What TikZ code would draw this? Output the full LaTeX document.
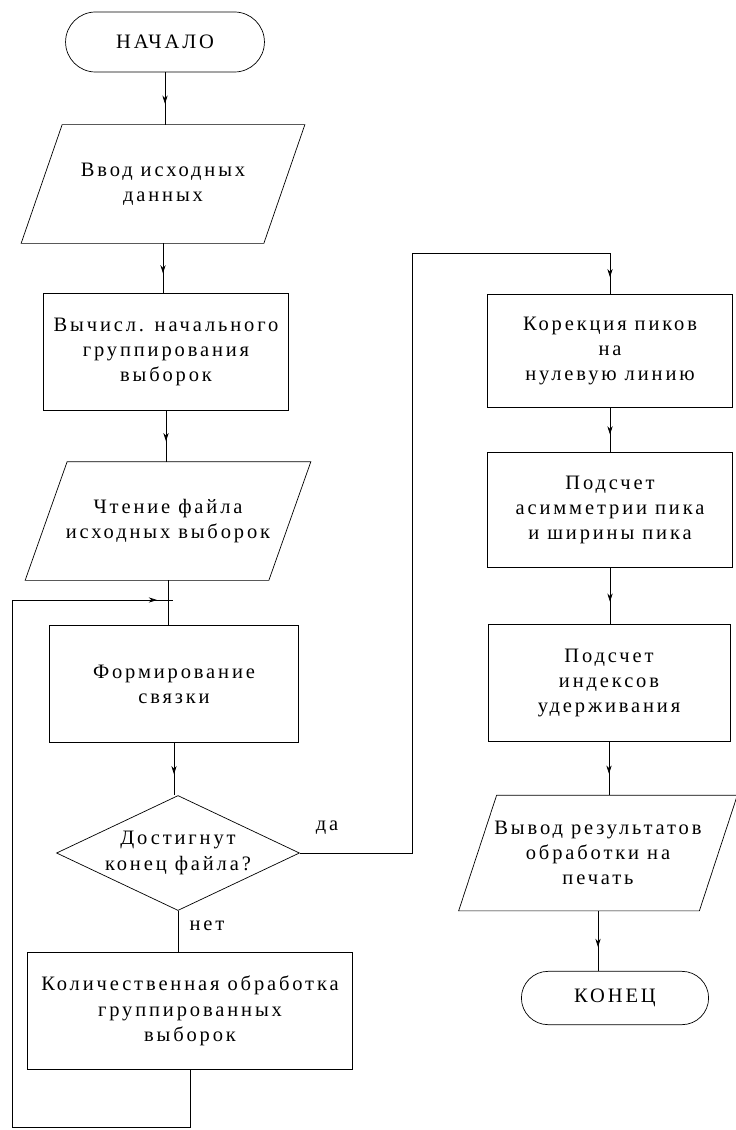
\documentclass[tikz,border=0pt]{standalone}
\usepackage{fontspec}
\setmainfont{Liberation Serif}[LetterSpace=14]
\usepackage{tikz}
\usetikzlibrary{shapes.geometric,shapes.misc,arrows.meta}
\usetikzlibrary{decorations.markings,positioning}
\begin{document}
\begin{tikzpicture}[x=0.03cm,y=-0.03cm,
    font=\fontsize{17.5}{21.5}\selectfont, line width=0.6pt,
    term/.style={rounded rectangle, draw, minimum height=#1},
    box/.style={rectangle, draw, align=center, minimum width=7.35cm, minimum height=3.5cm},
    io/.style={rectangle, align=center, minimum width=7.26cm, minimum height=3.54cm},
    cond/.style={diamond, draw, align=center, aspect=2.1, inner sep=0pt, minimum width=7.29cm, minimum height=3.45cm},
    midarr/.style={decoration={markings, mark=at position #1 with {\arrow{Stealth[length=7pt,width=4.5pt]}}}, postaction={decorate}},
    midarr/.default=0.6]

            \useasboundingbox (0,0) rectangle (736,1130);

            \node[term=1.8cm, minimum width=6.2cm] (start) at (165,42) {НАЧАЛО};
            \node[io] (in) at (163,184) {Ввод исходных\\ данных};
            \node[box] (calc) at (166,352) {Вычисл. начального\\ группирования\\ выборок};
            \node[io, minimum width=7.29cm] (read) at (168,521) {Чтение файла\\ исходных выборок};
            \node[box, minimum width=7.47cm] (form) at (174,684) {Формирование\\ связки};
            \node[cond] (test) at (178,853) {Достигнут\\ конец файла?};
            \node[box, minimum width=9.75cm] (quant) at (190,1011) {Количественная обработка\\ группированных\\ выборок};

            \node[box, minimum height=3.4cm] (corr) at (610,351) {Корекция пиков\\ на\\ нулевую линию};
            \node[box, minimum height=3.45cm] (asym) at (610,510) {Подсчет\\ асимметрии пика\\ и ширины пика};
            \node[box, minimum width=7.26cm] (idx) at (609,683) {Подсчет\\ индексов\\ удерживания};
            \node[io, minimum width=7.2cm, minimum height=3.45cm] (out) at (598,853) {Вывод результатов\\ обработки на\\ печать};
            \node[term=1.6cm, minimum width=5.85cm] (stop) at (615,998) {КОНЕЦ};

            \node (yes) at (327,828) {да};
            \node (no) at (207,926) {нет};

            \foreach \n/ \s in {in/20.5, read/21, out/19}{
                \draw ([xshift=\s*0.03cm]\n.north west) -- ([xshift=\s*0.03cm]\n.north east)
                    -- ([xshift=-\s*0.03cm]\n.south east) -- ([xshift=-\s*0.03cm]\n.south west) -- cycle;
            }

            \coordinate (join) at (173,600);
            \coordinate (lpb) at (12,1127);
            \coordinate (lpt) at (12,600);
            \coordinate (yr) at (412,853);
            \coordinate (yt) at (412,253);

            \foreach \s/ \d in {start/in, in/calc, calc/read, form/test, corr/asym, asym/idx, idx/out, out/stop}{
                \draw[midarr] (\s.south) -- (\s.south |- \d.north);
            }
            \draw (read.south) -- (read.south |- form.north);
            \draw (test.south) -- (test.south |- quant.north);
            \draw (quant.south) |- (lpb) -- (lpt);
            \draw[midarr=0.9] (lpt) -- (join);
            \draw (test.east) -- (yr) -- (yt);
            \draw[midarr=0.93] (yt) -| (corr.north);

    \end{tikzpicture}
\end{document}
